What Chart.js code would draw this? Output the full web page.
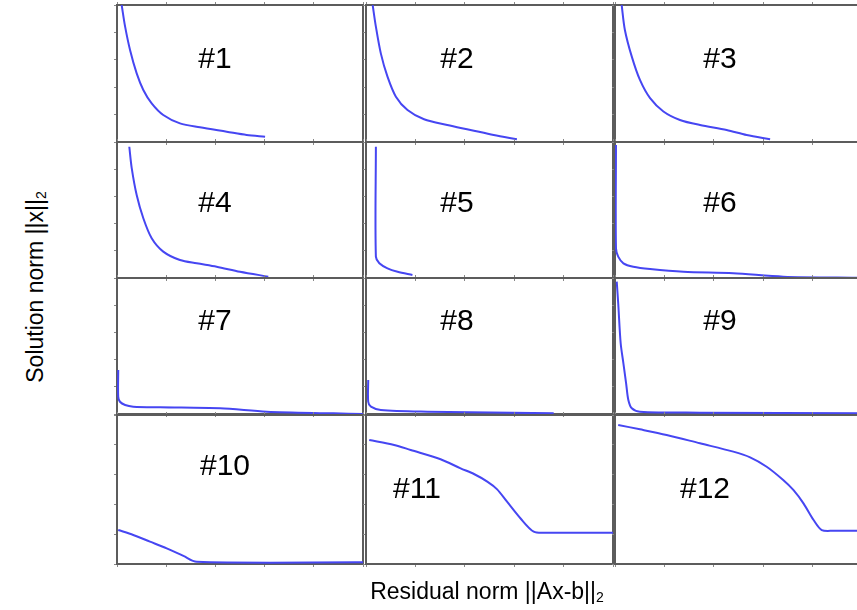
<!DOCTYPE html>
<html><head><meta charset="utf-8">
<script src="https://cdn.jsdelivr.net/npm/chart.js@4.4.1/dist/chart.umd.min.js"></script>
<style>
html,body{margin:0;padding:0;background:#fff;width:857px;height:610px;overflow:hidden;font-family:"Liberation Sans",Arial,sans-serif;}
#wrap{position:relative;width:857px;height:610px;}
.panel{position:absolute;}
.lbl{position:absolute;font-size:30px;color:#000;transform:translate(-50%,-50%);white-space:nowrap;}
#xt{position:absolute;left:487px;top:591px;transform:translate(-50%,-50%);font-size:23px;white-space:nowrap;color:#000}
#yt{position:absolute;left:35px;top:287px;transform:translate(-50%,-50%) rotate(-90deg);font-size:23px;white-space:nowrap;color:#000}
sub{font-size:14px;vertical-align:-3px;line-height:0}
</style>
</head><body>
<div id="wrap"></div>
<script>
// ---- data (normalized residual / solution norm, 0..100 per panel) ----
const panelLabels = ['#1','#2','#3','#4','#5','#6','#7','#8','#9','#10','#11','#12'];
const xTitle = 'Residual norm ||Ax-b||';
const yTitle = 'Solution norm ||x||';

const curve1X = [1.9, 3.3, 5.3, 8.0, 10.7, 14.1, 18.8, 25.6, 33.7, 44.6, 52.7, 60.2];
const curve1Y = [100, 84.2, 67.2, 50.1, 38.0, 28.2, 19.7, 13.6, 10.7, 7.5, 5.1, 3.9];
const curve2X = [2.7, 4.0, 6.0, 8.7, 12.1, 16.8, 23.5, 32.9, 42.3, 51.7, 61.1];
const curve2Y = [100, 84.2, 64.7, 47.7, 33.1, 23.4, 16.6, 12.4, 8.8, 5.1, 2.0];
const curve3X = [2.7, 4.0, 6.8, 10.1, 14.2, 19.6, 26.3, 34.4, 45.2, 53.3, 62.8];
const curve3Y = [100, 81.8, 62.3, 45.3, 32.0, 22.3, 16.1, 12.4, 8.8, 5.1, 2.0];
const curve4X = [5.0, 6.0, 8.0, 10.7, 14.1, 18.8, 25.6, 32.4, 40.5, 50.0, 61.5];
const curve4Y = [96.5, 80.6, 61.0, 43.9, 29.2, 19.4, 13.2, 10.8, 8.3, 4.6, 1.0];
const curve5X = [4.0, 4.0, 5.4, 8.7, 12.8, 18.8];
const curve5Y = [96.5, 15.7, 10.8, 7.1, 4.6, 2.2];
const curve6X = [0.4, 0.4, 1.3, 3.4, 7.4, 14.2, 27.7, 47.9, 68.1, 100];
const curve6Y = [97.8, 21.8, 15.7, 10.8, 8.3, 6.6, 4.6, 3.5, 1.0, 0.2];
const curve7X = [0.5, 0.5, 1.2, 3.3, 6.6, 17.5, 41.9, 60.9, 88.0, 100];
const curve7Y = [32.4, 12.7, 9.0, 6.6, 5.4, 4.9, 4.2, 1.7, 0.5, 0];
const curve8X = [0.9, 0.9, 2.0, 6.0, 24.9, 76.0];
const curve8Y = [25.0, 9.0, 5.4, 2.9, 1.7, 0.5];
const curve9X = [0.7, 1.3, 2.3, 3.4, 4.5, 5.4, 6.8, 10.1, 34.4, 100];
const curve9Y = [97.3, 81.4, 52.0, 37.3, 22.6, 10.3, 4.2, 1.7, 1.0, 0.5];
const curve10X = [0.5, 6.6, 13.4, 20.2, 27.0, 32.4, 100];
const curve10Y = [22.8, 19.5, 15.0, 10.5, 5.4, 1.5, 1.1];
const curve11X = [1.3, 11.4, 18.1, 30.2, 38.3, 43.7, 49.1, 53.1, 57.1, 62.5, 67.9, 73.3, 100];
const curve11Y = [83.2, 79.9, 76.5, 70.3, 64.2, 60.4, 55.3, 50.1, 41.8, 30.7, 21.7, 21.0, 21.0];
const curve12X = [1.3, 10.1, 20.9, 34.4, 47.9, 54.7, 61.4, 68.1, 72.2, 76.3, 80.4, 83.7, 88.4, 100];
const curve12Y = [93.3, 90.4, 86.6, 81.0, 75.4, 71.6, 65.3, 56.4, 49.7, 40.7, 29.5, 22.8, 22.3, 22.3];

const curvesX = [curve1X,curve2X,curve3X,curve4X,curve5X,curve6X,curve7X,curve8X,curve9X,curve10X,curve11X,curve12X];
const curvesY = [curve1Y,curve2Y,curve3Y,curve4Y,curve5Y,curve6Y,curve7Y,curve8Y,curve9Y,curve10Y,curve11Y,curve12Y];

// ---- layout (pixel boxes of the panels' plot areas) ----
const colBox = [[117,363],[366,613],[615,862]];
const rowBox = [[5,142],[142,278],[278,414],[415,564]];
const labelPos = [[215,58],[457,58],[720,58],[215,202],[457,202],[720,202],
                  [215,320],[457,320],[720,320],[225,465],[417,488],[705,488]];
const TL = 3; // tick length reserved by each axis

const wrap = document.getElementById('wrap');
const lineColor = '#4646f2';
const frameColor = '#5c5c5c';

function axis(pos, step){
  return {
    type:'linear', position:pos, min:0, max:100,
    ticks:{display:false, stepSize:step},
    grid:{display:true, drawOnChartArea:false, drawTicks:true, tickLength:TL, color:'#888', lineWidth:1},
    border:{display:true, color:frameColor, width:2}
  };
}

for(let i=0;i<12;i++){
  const r = Math.floor(i/3), c = i%3;
  const [x0,x1] = colBox[c], [y0,y1] = rowBox[r];
  const cv = document.createElement('canvas');
  const w = x1-x0+2*TL, h = y1-y0+2*TL;
  cv.className='panel';
  cv.style.left=(x0-TL)+'px'; cv.style.top=(y0-TL)+'px';
  cv.style.width=w+'px'; cv.style.height=h+'px';
  cv.width=w; cv.height=h;
  wrap.appendChild(cv);
  const pts = curvesX[i].map((x,k)=>({x:x, y:curvesY[i][k]}));
  new Chart(cv, {
    type:'line',
    data:{datasets:[{data:pts, borderColor:lineColor, borderWidth:2, pointRadius:0, tension:0.3, fill:false, xAxisID:'x', yAxisID:'y'}]},
    options:{
      responsive:false, animation:false, maintainAspectRatio:false,
      layout:{padding:0, autoPadding:false},
      plugins:{legend:{display:false}, tooltip:{enabled:false}, title:{display:false}},
      scales:{x:axis('bottom',20), x2:axis('top',20), y:axis('left',20), y2:axis('right',20)}
    }
  });
  const lb = document.createElement('div');
  lb.className='lbl'; lb.textContent=panelLabels[i];
  lb.style.left=labelPos[i][0]+'px'; lb.style.top=labelPos[i][1]+'px';
  wrap.appendChild(lb);
}

const xt = document.createElement('div'); xt.id='xt';
xt.textContent = xTitle; const s1=document.createElement('sub'); s1.textContent='2'; xt.appendChild(s1);
wrap.appendChild(xt);
const yt = document.createElement('div'); yt.id='yt';
yt.textContent = yTitle; const s2=document.createElement('sub'); s2.textContent='2'; yt.appendChild(s2);
wrap.appendChild(yt);
</script>
</body></html>
